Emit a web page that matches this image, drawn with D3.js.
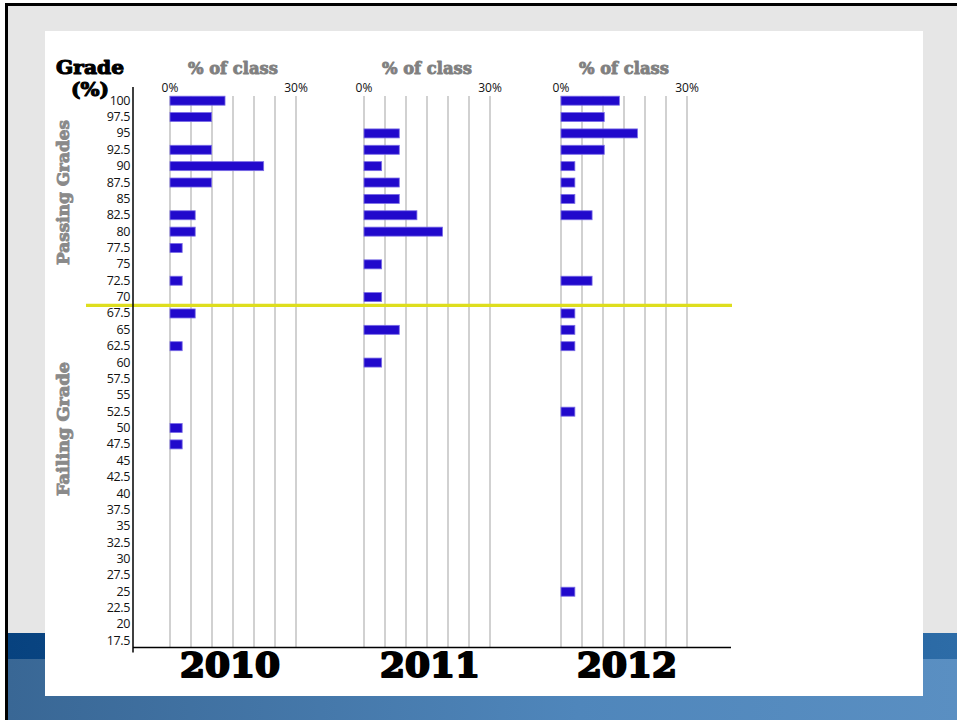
<!DOCTYPE html>
<html>
<head>
<meta charset="utf-8">
<script src="https://cdn.jsdelivr.net/npm/d3@7"></script>
<style>
  html, body { margin: 0; padding: 0; background: #fff; }
  svg { display: block; }
</style>
</head>
<body>
<svg id="chart" width="957" height="720"></svg>
<script>
// Grade buckets (percent), top to bottom
const grades = ["100","97.5","95","92.5","90","87.5","85","82.5","80","77.5","75","72.5","70",
  "67.5","65","62.5","60","57.5","55","52.5","50","47.5","45","42.5","40","37.5","35","32.5",
  "30","27.5","25","22.5","20","17.5"];

const years = ["2010", "2011", "2012"];

// Share of the class (%) in each grade bucket, one array per year
const share2010 = [13.1,9.9,0,9.9,22.3,9.9,0,6,6,2.9,0,2.9,0,6,0,2.9,0,0,0,0,2.9,2.9,0,0,0,0,0,0,0,0,0,0,0,0];
const share2011 = [0,0,8.4,8.4,4.2,8.4,8.4,12.6,18.7,0,4.2,0,4.2,0,8.4,0,4.2,0,0,0,0,0,0,0,0,0,0,0,0,0,0,0,0,0];
const share2012 = [13.9,10.3,18.2,10.3,3.3,3.3,3.3,7.4,0,0,0,7.4,0,3.3,3.3,3.3,0,0,0,3.3,0,0,0,0,0,0,0,0,0,0,3.3,0,0,0];

const pctTicks = [0, 5, 10, 15, 20, 25, 30];
const pctTickLabels = ["0%", "30%"];
const passMark = "70";

const shares = [share2010, share2011, share2012];

const svg = d3.select("#chart");
const heavy = "'DejaVu Serif', serif";
const plain = "'Open Sans', 'Liberation Sans', sans-serif";

// thick display lettering: bold serif with a matching outline
function chunky(sel, color, w) {
  return sel.attr("font-family", heavy).attr("font-weight", "bold")
    .attr("fill", color).attr("stroke", color).attr("stroke-width", w)
    .attr("stroke-linejoin", "round");
}

// ---- slide backdrop ----
const defs = svg.append("defs");
const gStripe = defs.append("linearGradient").attr("id", "stripe");
gStripe.append("stop").attr("offset", "0%").attr("stop-color", "#07427f");
gStripe.append("stop").attr("offset", "100%").attr("stop-color", "#2d6ca7");
const gBase = defs.append("linearGradient").attr("id", "base");
gBase.append("stop").attr("offset", "0%").attr("stop-color", "#396795");
gBase.append("stop").attr("offset", "60%").attr("stop-color", "#4f86bb");
gBase.append("stop").attr("offset", "100%").attr("stop-color", "#5a8fc2");

svg.append("rect").attr("x", 5).attr("y", 3).attr("width", 952).attr("height", 717).attr("fill", "#000");
svg.append("rect").attr("x", 8).attr("y", 6).attr("width", 949).attr("height", 627).attr("fill", "#e6e6e6");
svg.append("rect").attr("x", 8).attr("y", 633).attr("width", 949).attr("height", 87).attr("fill", "url(#base)");
svg.append("rect").attr("x", 8).attr("y", 633).attr("width", 949).attr("height", 26).attr("fill", "url(#stripe)");
svg.append("rect").attr("x", 45).attr("y", 31).attr("width", 878).attr("height", 665).attr("fill", "#fff");

// ---- scales ----
const y = d3.scaleBand().domain(grades).range([92.5, 649]).paddingInner(0.45).paddingOuter(0.225);
const panelX = d3.scalePoint().domain(years).range([170, 561]);
const x = d3.scaleLinear().domain([0, 30]).range([0, 126]);

const axisX = 133, axisBottom = 647.5, axisRight = 731;

// ---- panels ----
years.forEach((yr, i) => {
  const g = svg.append("g").attr("transform", `translate(${panelX(yr) - (i === 1 ? 1.5 : 0)},0)`);

  g.selectAll("line.grid").data(pctTicks).join("line")
    .attr("class", "grid")
    .attr("x1", d => x(d)).attr("x2", d => x(d))
    .attr("y1", 96).attr("y2", axisBottom)
    .attr("stroke", "#c2c2c2").attr("stroke-width", 1.5);

  g.selectAll("text.pct").data(pctTickLabels).join("text")
    .attr("class", "pct")
    .attr("x", d => x(parseFloat(d))).attr("y", 92)
    .attr("text-anchor", "middle")
    .attr("font-family", plain).attr("font-size", 12).attr("fill", "#111")
    .text(d => d);

  chunky(g.append("text"), "#808080", 0.9)
    .attr("x", x(15)).attr("y", 74)
    .attr("text-anchor", "middle")
    .attr("font-size", 17)
    .attr("textLength", 90).attr("lengthAdjust", "spacingAndGlyphs")
    .text("% of class");

  const rows = grades.map((gr, k) => ({ grade: gr, value: shares[i][k] })).filter(d => d.value > 0);
  g.selectAll("rect.bar").data(rows).join("rect")
    .attr("class", "bar")
    .attr("x", x(0))
    .attr("y", d => y(d.grade))
    .attr("width", d => x(d.value) - x(0))
    .attr("height", y.bandwidth())
    .attr("fill", "#2109cc")
    .attr("stroke", "#7a6ce6").attr("stroke-width", 0.8);

  chunky(g.append("text"), "#000", 2)
    .attr("x", x(15) - 1 + (i === 0 ? -2 : 4)).attr("y", 677)
    .attr("text-anchor", "middle")
    .attr("font-size", 33)
    .attr("textLength", 100).attr("lengthAdjust", "spacingAndGlyphs")
    .text(yr);
});

// ---- pass / fail divider ----
const passIdx = grades.indexOf(passMark);
const lineY = (y(grades[passIdx]) + y(grades[passIdx + 1]) + y.bandwidth()) / 2;
svg.append("line")
  .attr("x1", 86).attr("x2", 732).attr("y1", lineY).attr("y2", lineY)
  .attr("stroke", "#dede1e").attr("stroke-width", 3.2);

// ---- grade axis ----
const yAxis = d3.axisLeft(y).tickSize(0).tickPadding(3);
const ag = svg.append("g").attr("transform", `translate(${axisX},0)`).call(yAxis);
ag.select(".domain").remove();
ag.selectAll("text")
  .attr("font-family", plain).attr("font-size", 12.5).attr("fill", "#111")
  .attr("letter-spacing", "-0.4px");

svg.append("line").attr("x1", axisX).attr("x2", axisX).attr("y1", 87).attr("y2", axisBottom + 5)
  .attr("stroke", "#000").attr("stroke-width", 1.5);
svg.append("line").attr("x1", axisX).attr("x2", axisRight).attr("y1", axisBottom).attr("y2", axisBottom)
  .attr("stroke", "#000").attr("stroke-width", 1.5);

// ---- titles ----
chunky(svg.append("text"), "#000", 1.1).attr("x", 56).attr("y", 74)
  .attr("font-size", 19)
  .attr("textLength", 68).attr("lengthAdjust", "spacingAndGlyphs")
  .text("Grade");
chunky(svg.append("text"), "#000", 1.1).attr("x", 71).attr("y", 96)
  .attr("font-size", 19)
  .attr("textLength", 38).attr("lengthAdjust", "spacingAndGlyphs")
  .text("(%)");

chunky(svg.append("text"), "#8a8a8a", 0.9)
  .attr("transform", "translate(69,192.5) rotate(-90)")
  .attr("text-anchor", "middle")
  .attr("font-size", 16.5)
  .attr("textLength", 145).attr("lengthAdjust", "spacingAndGlyphs")
  .text("Passing Grades");
chunky(svg.append("text"), "#8a8a8a", 0.9)
  .attr("transform", "translate(69,429) rotate(-90)")
  .attr("text-anchor", "middle")
  .attr("font-size", 16.5)
  .attr("textLength", 134).attr("lengthAdjust", "spacingAndGlyphs")
  .text("Failing Grade");
</script>
</body>
</html>
